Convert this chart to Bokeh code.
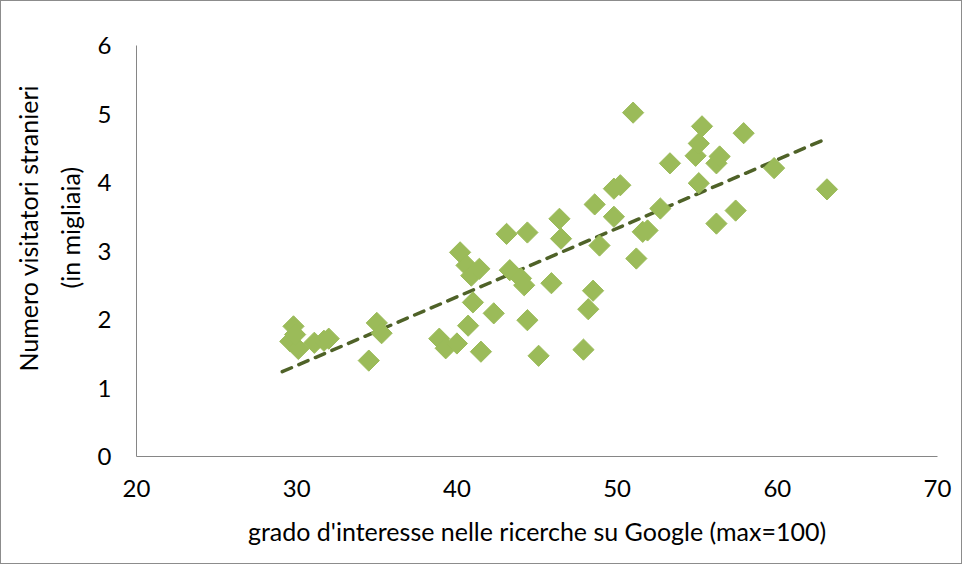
import numpy as np
from bokeh.plotting import figure
from bokeh.models import Range1d, FixedTicker, Title
from bokeh.embed import file_html
from bokeh.resources import INLINE

interest = [29.6, 29.8, 30.1, 29.9, 31.1, 31.7, 32.0, 35.0, 35.3, 34.5,
            38.9, 39.3, 40.0, 40.7, 41.0, 41.5, 42.3, 40.2, 40.6, 40.9,
            41.4, 43.1, 43.3, 44.0, 44.2, 44.4, 44.4, 45.1, 45.9, 46.4,
            46.5, 47.9, 48.2, 48.5, 48.6, 48.9, 49.8, 49.8, 50.2, 51.0,
            51.2, 51.6, 51.9, 52.7, 53.3, 54.9, 55.1, 55.3, 55.1, 56.2,
            56.2, 56.4, 57.4, 57.9, 59.8, 63.1]
visitors = [1.68, 1.90, 1.57, 1.78, 1.66, 1.69, 1.72, 1.95, 1.80, 1.40,
            1.72, 1.58, 1.65, 1.91, 2.25, 1.53, 2.09, 2.98, 2.79, 2.64,
            2.74, 3.25, 2.72, 2.60, 2.50, 3.27, 1.99, 1.47, 2.53, 3.47,
            3.18, 1.56, 2.15, 2.42, 3.68, 3.08, 3.50, 3.91, 3.96, 5.02,
            2.89, 3.28, 3.30, 3.62, 4.28, 4.39, 4.57, 4.82, 3.99, 4.28,
            3.40, 4.38, 3.59, 4.72, 4.21, 3.90]

x_ticks = [20, 30, 40, 50, 60, 70]
y_ticks = [0, 1, 2, 3, 4, 5, 6]

x_title = "grado d'interesse nelle ricerche su Google (max=100)"
y_title_1 = "Numero visitatori stranieri"
y_title_2 = "(in migliaia)"

FONT = "Lato"
TXT = "#000000"

p = figure(width=962, height=564, output_backend="svg", toolbar_location=None,
           x_range=Range1d(20, 70), y_range=Range1d(0, 6),
           min_border_left=135, min_border_right=26, min_border_top=44,
           min_border_bottom=109)
p.styles = {"border": "1px solid #8c8c8c"}
p.outline_line_color = None
p.xgrid.grid_line_color = None
p.ygrid.grid_line_color = None

for ax in (p.xaxis[0], p.yaxis[0]):
    ax.axis_line_color = "#868686"
    ax.axis_line_width = 1
    ax.major_tick_line_color = None
    ax.minor_tick_line_color = None
    ax.major_label_text_font = FONT
    ax.major_label_text_font_size = "24px"
    ax.major_label_text_color = TXT
    ax.axis_label_text_font = FONT
    ax.axis_label_text_font_style = "normal"
    ax.axis_label_text_font_size = "25px"
    ax.axis_label_text_color = TXT

p.xaxis.ticker = FixedTicker(ticks=x_ticks)
p.yaxis.ticker = FixedTicker(ticks=y_ticks)
p.xaxis.major_label_standoff = 17
p.yaxis.major_label_standoff = 19
p.xaxis.axis_label = x_title
p.xaxis.axis_label_standoff = 16

# y-axis title, two lines, sitting a little above the middle of the plot
# (closest line is added first)
p.add_layout(Title(text=y_title_2, align="left", offset=168, standoff=20,
                   text_font=FONT, text_font_size="25px",
                   text_font_style="normal", text_color=TXT,
                   text_line_height=0.9), "left")
p.add_layout(Title(text=y_title_1, align="left", offset=85, standoff=0,
                   text_font=FONT, text_font_size="25px",
                   text_font_style="normal", text_color=TXT,
                   text_line_height=0.9), "left")

# linear trend line computed from the data
coef = np.polyfit(interest, visitors, 1)
tx = np.array([min(interest) - 0.5, max(interest) - 0.3])
p.line(tx, np.polyval(coef, tx), line_color="#4F6228", line_width=3.5,
       line_dash="10 8", line_cap="round")

p.scatter(interest, visitors, marker="square", size=15, angle=np.pi / 4,
          fill_color="#9BBB59", line_color="#9BBB59", line_width=1)

open("out.html", "w").write(file_html(p, INLINE))
